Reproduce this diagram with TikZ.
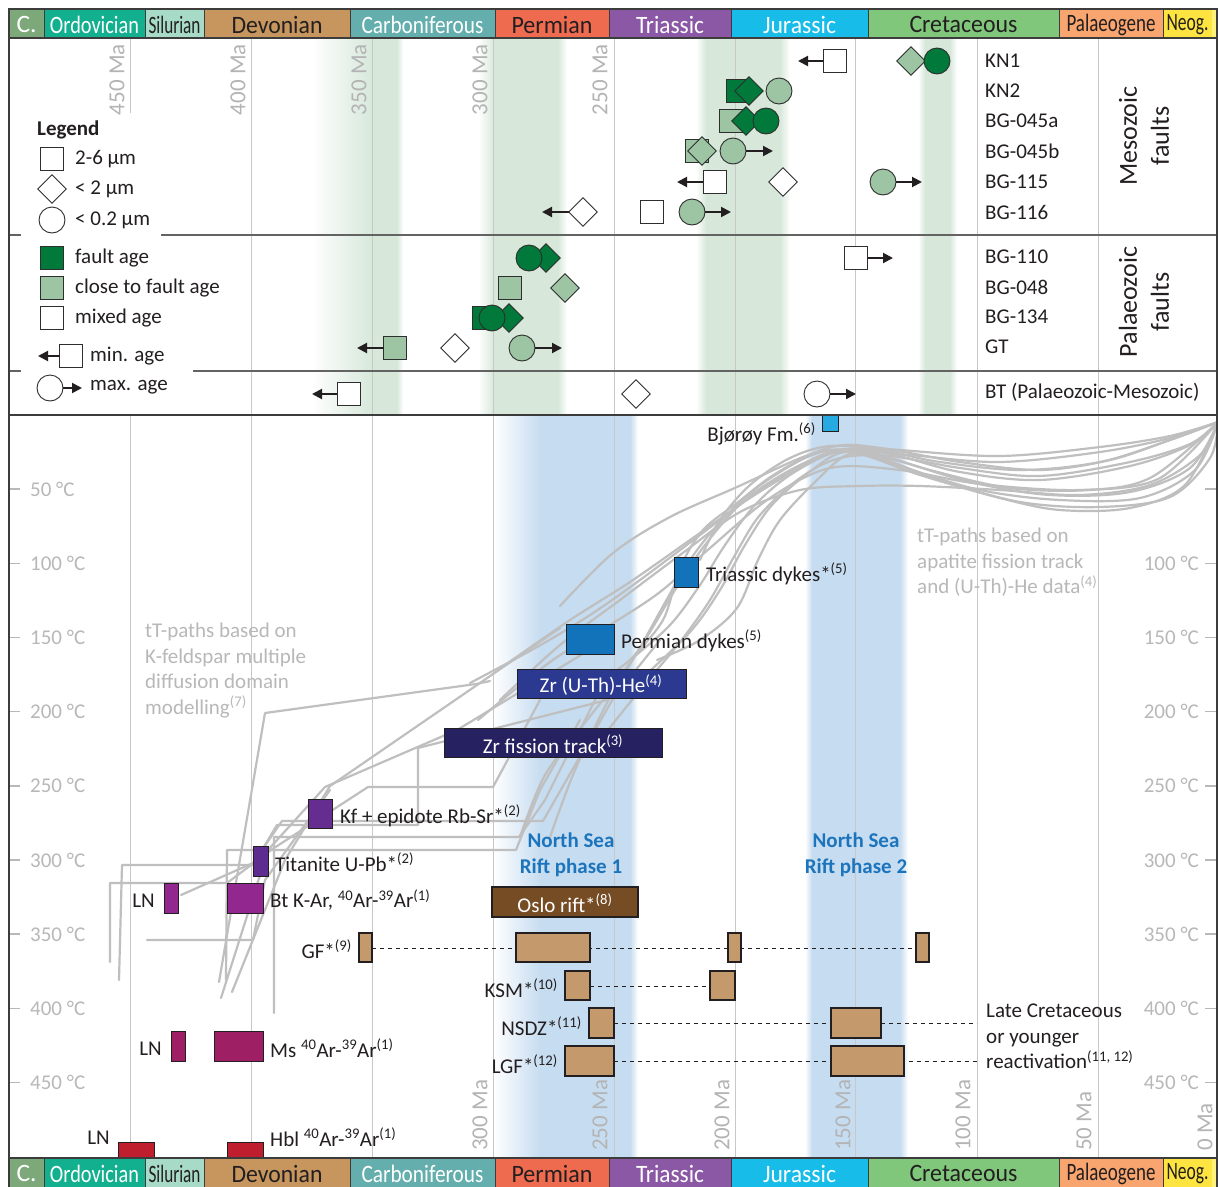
\documentclass[tikz,border=0pt]{standalone}
\usepackage{fontspec}
\setmainfont{Carlito}
\usepackage{graphicx}
\usetikzlibrary{shapes.geometric,arrows.meta}
\definecolor{frame}{HTML}{3C3C3C}
\definecolor{gridc}{HTML}{C8C8C8}
\definecolor{axc}{HTML}{B8B8B8}
\definecolor{bandg}{HTML}{D7E8DB}
\definecolor{bandb}{HTML}{C6DCF0}
\definecolor{dg}{HTML}{00793A}
\definecolor{lg}{HTML}{9DC4A3}
\definecolor{symline}{HTML}{2E2E2E}
\definecolor{pathc}{HTML}{BFBFBF}
\definecolor{txt}{HTML}{231F20}
\definecolor{nsr}{HTML}{1C75BC}
\definecolor{tan}{HTML}{C49A6C}
\definecolor{bjo}{HTML}{27AAE1}
\definecolor{dyk}{HTML}{1272BA}
\definecolor{zrhe}{HTML}{2B3990}
\definecolor{zrft}{HTML}{262262}
\definecolor{kfc}{HTML}{662D91}
\definecolor{titc}{HTML}{5E2C90}
\definecolor{btc}{HTML}{92278F}
\definecolor{msc}{HTML}{9E1F63}
\definecolor{hblc}{HTML}{BE1E2D}
\definecolor{oslo}{HTML}{754C24}
\definecolor{cCam}{HTML}{7DA87A}
\definecolor{cOrd}{HTML}{13B08F}
\definecolor{cSil}{HTML}{A7DBC8}
\definecolor{cDev}{HTML}{C7955E}
\definecolor{cCar}{HTML}{64AEAE}
\definecolor{cPer}{HTML}{EF6B4F}
\definecolor{cTri}{HTML}{8B58A6}
\definecolor{cJur}{HTML}{18BCE9}
\definecolor{cCre}{HTML}{80C77B}
\definecolor{cPal}{HTML}{F9A56F}
\definecolor{cNeo}{HTML}{FDE440}
\definecolor{cQua}{HTML}{FEF27A}
\newcommand\flab{\fontsize{21}{25.5}\selectfont}
\newcommand\fhdr{\fontsize{25}{28}\selectfont}
\newcommand\fbigl{\fontsize{26}{32}\selectfont}
\newcommand\fax{\fontsize{21}{24}\selectfont}
\newcommand\fma{\fontsize{23}{26}\selectfont}
\newcommand\perd[6]{%
  \foreach \yy/\yb in {9/38,1158/1187}{%
    \path[draw=frame, line width=1pt, fill=#3] (#1,\yy) rectangle (#2,\yb);
    \node[text=#4, font=\fhdr, inner sep=0pt] at ({(#1+#2)/2},{(\yy+\yb)/2+1}) {\resizebox{#5pt}{\height}{#6}};
  }}
\newcommand\sqs[3]{\node[sqsty, fill=#3] at (#1,#2) {};}
\newcommand\dms[3]{\node[dmsty, fill=#3] at (#1,#2) {};}
\newcommand\cis[3]{\node[cisty, fill=#3] at (#1,#2) {};}
\begin{document}
\begin{tikzpicture}[x=1pt,y=-1pt,
  sym/.style={draw=symline, line width=0.9pt, inner sep=0pt},
  sqsty/.style={sym, rectangle, minimum size=23pt},
  dmsty/.style={sym, diamond, minimum size=29pt},
  cisty/.style={sym, circle, minimum size=26pt},
  arw/.style={draw=txt, line width=2pt, -{Triangle[length=10pt,width=10pt]}},
  gridl/.style={draw=gridc, line width=1pt},
  tpath/.style={draw=pathc, line width=2.2pt, line join=round, line cap=round},
  lab/.style={font=\flab, text=txt, inner sep=0pt},
  axl/.style={font=\fax, text=axc, inner sep=0pt},
  mal/.style={font=\fma, text=gridc!90!black, inner sep=0pt, rotate=90},
  wbox/.style={font=\flab, text=white, inner sep=0pt},
  dbox/.style={draw=txt, line width=1pt},
  tbox/.style={draw=txt, line width=2.4pt, fill=tan},
  dsh/.style={draw=txt, line width=1pt, dash pattern=on 4pt off 4pt},
  apc/.style={tpath, smooth, tension=0.55},
]
\useasboundingbox (0,0) rectangle (1218,1186);
\fill[white] (0,0) rectangle (1218,1186);

% ---------- green bands (upper panel)
\shade[left color=white, right color=bandg] (311,38) rectangle (372,415);
\fill[bandg] (372,38) rectangle (397,415);
\shade[left color=bandg, right color=white] (397,38) rectangle (403,415);
\shade[left color=white, right color=bandg] (478,38) rectangle (494,415);
\fill[bandg] (494,38) rectangle (558,415);
\shade[left color=bandg, right color=white] (558,38) rectangle (567,415);
\shade[left color=white, right color=bandg] (696,38) rectangle (706,415);
\fill[bandg] (706,38) rectangle (780,415);
\shade[left color=bandg, right color=white] (780,38) rectangle (790,415);
\shade[left color=white, right color=bandg] (918,38) rectangle (925,415);
\fill[bandg] (925,38) rectangle (950,415);
\shade[left color=bandg, right color=white] (950,38) rectangle (957,415);

% ---------- blue bands (lower panel)
\shade[left color=white, right color=bandb] (493,415) rectangle (541,1158);
\fill[bandb] (541,415) rectangle (630,1158);
\shade[left color=bandb, right color=white] (630,415) rectangle (638,1158);
\shade[left color=white, right color=bandb] (805,415) rectangle (812,1158);
\fill[bandb] (812,415) rectangle (900,1158);
\shade[left color=bandb, right color=white] (900,415) rectangle (908,1158);

% ---------- grid lines
\draw[gridl] (130,38) -- (130,113);
\foreach \gx in {251,372,493,614,735,855,977,1098}{\draw[gridl] (\gx,38) -- (\gx,415);}
\foreach \gx in {130,251,372,493,614,735,855,977,1098}{\draw[gridl] (\gx,415) -- (\gx,1158);}

% ---------- Ma labels
\foreach \mx/\mt in {117/450,238/400,359/350,480/300,600/250}{
  \node[mal, anchor=east] at (\mx,44) {\mt\ Ma};}
\foreach \mx/\mt in {480/300,600/250,722/200,843/150,963/100,1084/50,1205/0}{
  \node[mal, anchor=west] at (\mx,1151) {\mt\ Ma};}

% ---------- temperature axis
\foreach \tt in {50,100,...,450}{
  \pgfmathsetmacro\ty{415+1.4833*\tt}
  \draw[draw=axc, line width=1.5pt] (9,\ty) -- (20,\ty);
  \draw[draw=axc, line width=1.5pt] (1205,\ty) -- (1217,\ty);
  \node[axl, anchor=west] at (30,\ty) {\tt\ °C};
}
\foreach \tt in {100,150,...,450}{
  \pgfmathsetmacro\ty{415+1.4833*\tt}
  \node[axl, anchor=east] at (1199,\ty) {\tt\ °C};
}

% ---------- tT paths (K-feldspar MDD)
\draw[tpath] (490,681) -- (476,684) -- (265,713) -- (219,982);
\draw[tpath] (614,635) -- (457,730) -- (325,787) -- (268,850) -- (221,998);
\draw[tpath] (607,700) -- (418,748) -- (418,825) -- (277,825) -- (253,865) -- (122,865) -- (119,980);
\draw[tpath] (660,640) -- (614,697) -- (543,821) -- (282,821) -- (253,863) -- (181,895);
\draw[tpath] (600,690) -- (545,800) -- (519,837) -- (274,837) -- (274,1013);
\draw[tpath] (580,720) -- (540,790) -- (516,850) -- (227,850) -- (226,980);
\draw[tpath] (540,700) -- (493,787) -- (368,787) -- (271,850) -- (227,883) -- (110,883) -- (110,962);
\draw[tpath] (330,790) -- (265,880) -- (253,940) -- (147,940);
\draw[tpath] (560,628) -- (330,786) -- (285,860) -- (232,992);

% ---------- tT paths (apatite)
\draw[apc] plot coordinates {(560,606) (613,553) (670,517) (737,487) (803,457) (845,445) (900,450) (1000,456) (1100,447) (1170,436) (1218,422)};
\draw[apc] plot coordinates {(470,683) (537,647) (590,615) (640,580) (700,535) (760,490) (815,458) (850,449) (895,455) (960,472) (1040,480) (1130,466) (1190,445) (1218,422)};
\draw[apc] plot coordinates {(478,720) (550,662) (610,625) (660,592) (710,548) (770,498) (830,468) (900,470) (980,484) (1080,490) (1150,478) (1218,422)};
\draw[apc] plot coordinates {(500,700) (560,645) (620,600) (680,555) (740,512) (800,490) (860,486) (920,486) (1000,490) (1080,495) (1150,485) (1200,455) (1218,422)};
\draw[apc] plot coordinates {(630,660) (663,620) (680,568) (703,530) (737,503) (775,474) (820,452) (860,454) (920,475) (1000,498) (1060,510) (1130,508) (1185,485) (1218,422)};
\draw[apc] plot coordinates {(550,837) (575,770) (610,697) (637,653) (662,608) (690,560) (722,520) (762,484) (812,455) (850,450) (900,466) (980,490) (1060,500) (1140,498) (1195,470) (1218,422)};
\draw[apc] plot coordinates {(520,837) (545,775) (587,720) (613,687) (645,640) (675,590) (705,545) (745,500) (800,465) (850,450) (910,455) (1000,462) (1100,452) (1170,438) (1218,422)};
\draw[apc] plot coordinates {(657,660) (700,640) (737,608) (758,560) (780,520) (815,482) (847,455) (880,458) (940,480) (1020,502) (1100,507) (1170,497) (1210,458) (1218,422)};
\draw[apc] plot coordinates {(640,680) (690,632) (720,590) (745,545) (772,505) (812,470) (845,452) (895,460) (970,482) (1050,495) (1130,492) (1190,468) (1218,422)};
\draw[apc] plot coordinates {(600,740) (640,690) (680,642) (710,600) (735,555) (760,515) (800,478) (840,458) (890,456) (960,468) (1040,476) (1130,462) (1190,444) (1218,422)};
\draw[apc] plot coordinates {(508,663) (570,620) (630,582) (690,540) (750,498) (800,468) (840,450) (890,450) (960,462) (1040,470) (1110,460) (1170,440) (1218,422)};
\draw[apc] plot coordinates {(700,560) (720,520) (750,485) (790,458) (830,446) (880,450) (940,462) (1020,470) (1100,462) (1170,440) (1218,422)};
\draw[apc] plot coordinates {(590,690) (630,660) (670,625) (700,585) (725,545) (755,505) (790,475) (835,452) (870,452) (930,470) (1010,488) (1090,490) (1160,478) (1218,422)};

% ---------- gray annotations
\node[font=\flab, text=axc, anchor=north west, align=left, inner sep=0pt] (kfnote) at (145,623)
  {tT-paths based on\\K-feldspar multiple\\diffusion domain\\modelling\textsuperscript{(7)}};
\node[font=\flab, text=axc, anchor=north west, align=left, inner sep=0pt] (apnote) at (917,528)
  {tT-paths based on\\apatite fission track\\and (U-Th)-He data\textsuperscript{(4)}};

% ---------- data boxes
\path[dbox, fill=bjo] (822,415) rectangle (838,431);
\node[lab, anchor=east] (bjo) at (816,434) {Bjørøy Fm.\textsuperscript{(6)}};
\path[dbox, fill=dyk] (674,557) rectangle (698,587);
\node[lab, anchor=west] (tri) at (706,574) {Triassic dykes*\textsuperscript{(5)}};
\path[dbox, fill=dyk] (566,624) rectangle (614,654);
\node[lab, anchor=west] (perm) at (621,641) {Permian dykes\textsuperscript{(5)}};
\path[dbox, fill=zrhe] (517,669) rectangle (686,698);
\node[wbox] (zrhel) at (601,685) {Zr (U-Th)-He\textsuperscript{(4)}};
\path[dbox, fill=zrft] (444,728) rectangle (662,757);
\node[wbox] (zrftl) at (553,744) {Zr fission track\textsuperscript{(3)}};
\path[dbox, fill=kfc] (308,799) rectangle (332,828);
\node[lab, anchor=west] (kf) at (340,816) {Kf + epidote Rb-Sr*\textsuperscript{(2)}};
\path[dbox, fill=titc] (253,846) rectangle (268,876);
\node[lab, anchor=west] (tit) at (275,862) {Titanite U-Pb*\textsuperscript{(2)}};
\path[dbox, fill=btc] (164,883) rectangle (178,913);
\path[dbox, fill=btc] (227,883) rectangle (263,913);
\node[lab, anchor=east] (ln1) at (155,901) {LN};
\node[lab, anchor=west] (bt) at (270,900) {Bt K-Ar, \textsuperscript{40}Ar-\textsuperscript{39}Ar\textsuperscript{(1)}};
\path[dbox, fill=msc] (171,1031) rectangle (185,1061);
\path[dbox, fill=msc] (214,1031) rectangle (263,1061);
\node[lab, anchor=east] (ln2) at (162,1049) {LN};
\node[lab, anchor=west] (ms) at (270,1048) {Ms \textsuperscript{40}Ar-\textsuperscript{39}Ar\textsuperscript{(1)}};
\path[dbox, fill=hblc] (118,1142) rectangle (154,1160);
\path[dbox, fill=hblc] (227,1142) rectangle (263,1160);
\node[lab, anchor=east] (ln3) at (110,1138) {LN};
\node[lab, anchor=west] (hbl) at (270,1137) {Hbl \textsuperscript{40}Ar-\textsuperscript{39}Ar\textsuperscript{(1)}};
\path[draw=txt, line width=1.5pt, fill=oslo] (492,887) rectangle (638,917);
\node[wbox] (oslol) at (565,903) {Oslo rift*\textsuperscript{(8)}};
\node[font=\flab\bfseries, text=nsr, align=center, inner sep=0pt] (ns1) at (571,855) {North Sea\\Rift phase 1};
\node[font=\flab\bfseries, text=nsr, align=center, inner sep=0pt] (ns2) at (856,855) {North Sea\\Rift phase 2};

% tan boxes with dashed links
\draw[dsh] (372,948) -- (916,948);
\draw[dsh] (590,986) -- (710,986);
\draw[dsh] (614,1023) -- (831,1023);
\draw[dsh] (881,1023) -- (977,1023);
\draw[dsh] (614,1061) -- (831,1061);
\draw[dsh] (909,1061) -- (977,1061);
\path[tbox] (359,933) rectangle (372,962);
\path[tbox] (516,933) rectangle (590,962);
\path[tbox] (728,933) rectangle (741,962);
\path[tbox] (916,933) rectangle (929,962);
\path[tbox] (565,971) rectangle (590,1000);
\path[tbox] (710,971) rectangle (735,1000);
\path[tbox] (589,1008) rectangle (614,1038);
\path[tbox] (831,1008) rectangle (881,1038);
\path[tbox] (565,1046) rectangle (614,1076);
\path[tbox] (831,1046) rectangle (904,1076);
\node[lab, anchor=east] (gf) at (352,949) {GF*\textsuperscript{(9)}};
\node[lab, anchor=east] (ksm) at (558,988) {KSM*\textsuperscript{(10)}};
\node[lab, anchor=east] (nsdz) at (582,1026) {NSDZ*\textsuperscript{(11)}};
\node[lab, anchor=east] (lgf) at (558,1064) {LGF*\textsuperscript{(12)}};
\node[lab, anchor=north west, align=left] (late) at (986,1004)
  {Late Cretaceous\\or younger\\reactivation\textsuperscript{(11, 12)}};

% ---------- upper panel frame lines
\draw[draw=frame!80, line width=1.5pt] (9,235) -- (21,235) (161,235) -- (1217,235);
\draw[draw=frame!80, line width=1.5pt] (9,371) -- (21,371) (193,371) -- (1217,371);
\draw[draw=frame, line width=2.5pt] (9,415) -- (1217,415);

% ---------- legend
\node[font=\flab\bfseries, text=txt, anchor=west, inner sep=0pt] (leg) at (37,130) {Legend};
\sqs{52}{159}{white} \node[lab, anchor=west] at (75,159) {2-6 µm};
\dms{52}{189}{white} \node[lab, anchor=west] at (75,189) {< 2 µm};
\cis{52}{220}{white} \node[lab, anchor=west] at (75,220) {< 0.2 µm};
\sqs{52}{258}{dg} \node[lab, anchor=west] at (75,258) {fault age};
\sqs{52}{288}{lg} \node[lab, anchor=west] at (75,288) {close to fault age};
\sqs{52}{318}{white} \node[lab, anchor=west] at (75,318) {mixed age};
\sqs{71}{356}{white} \draw[arw] (60,356) -- (38,356);
\node[lab, anchor=west] at (90,356) {min. age};
\cis{50}{388}{white} \draw[arw] (63,388) -- (82,388);
\node[lab, anchor=west] at (90,387) {max. age};

% ---------- sample symbols
\sqs{835}{61}{white} \draw[arw] (823,61) -- (798,61);
\dms{911}{61}{lg} \cis{937}{61}{dg}
\sqs{738}{91}{dg} \dms{749}{91}{dg} \cis{779}{91}{lg}
\sqs{731}{121}{lg} \dms{746}{121}{dg} \cis{766}{121}{dg}
\sqs{697}{151}{lg} \dms{702}{151}{lg} \cis{733}{151}{lg} \draw[arw] (746,151) -- (773,151);
\sqs{715}{182}{white} \draw[arw] (703,182) -- (677,182);
\dms{783}{182}{white}
\cis{883}{182}{lg} \draw[arw] (896,182) -- (922,182);
\dms{583}{212}{white} \draw[arw] (569,212) -- (542,212);
\sqs{652}{212}{white}
\cis{692}{212}{lg} \draw[arw] (705,212) -- (731,212);
\dms{546}{258}{dg} \cis{529}{258}{dg}
\sqs{856}{258}{white} \draw[arw] (868,258) -- (893,258);
\sqs{510}{288}{lg} \dms{565}{288}{lg}
\sqs{484}{318}{dg} \dms{509}{318}{dg} \cis{492}{318}{dg}
\sqs{395}{348}{lg} \draw[arw] (384,348) -- (357,348);
\dms{455}{348}{white}
\cis{522}{348}{lg} \draw[arw] (535,348) -- (562,348);
\sqs{349}{394}{white} \draw[arw] (337,394) -- (312,394);
\dms{636}{394}{white}
\cis{817}{394}{white} \draw[arw] (830,394) -- (856,394);

% ---------- sample names
\foreach \sy/\sn in {61/KN1,91/KN2,121/BG-045a,151/BG-045b,182/BG-115,212/BG-116,257/BG-110,287/BG-048,317/BG-134,347/GT}{
  \node[lab, anchor=west] at (985,\sy) {\sn};}
\node[lab, anchor=west] (bt2) at (985,392) {BT (Palaeozoic-Mesozoic)};
\node[font=\fbigl, text=txt, rotate=90, align=center, inner sep=0pt] (meso) at (1144,136) {Mesozoic\\faults};
\node[font=\fbigl, text=txt, rotate=90, align=center, inner sep=0pt] (palz) at (1144,302) {Palaeozoic\\faults};

% ---------- time scale bars
\perd{9}{44}{cCam}{white}{20}{C.}
\perd{44}{145}{cOrd}{white}{89}{Ordovician}
\perd{145}{204}{cSil}{txt}{52}{Silurian}
\perd{204}{350}{cDev}{txt}{91}{Devonian}
\perd{350}{495}{cCar}{white}{122}{Carboniferous}
\perd{495}{609}{cPer}{txt}{81}{Permian}
\perd{609}{731}{cTri}{white}{68}{Triassic}
\perd{731}{868}{cJur}{white}{73}{Jurassic}
\perd{868}{1059}{cCre}{txt}{108}{Cretaceous}
\perd{1059}{1163}{cPal}{txt}{89}{Palaeogene}
\perd{1163}{1212}{cNeo}{txt}{42}{Neog.}
\fill[cQua] (1212,9) rectangle (1217,38);
\fill[cQua] (1212,1158) rectangle (1217,1187);

% ---------- outer frame
\draw[draw=frame, line width=2.5pt] (9,1187) -- (9,9) -- (1217,9) -- (1217,1187);
\draw[draw=frame, line width=2.5pt] (9,38) -- (1217,38);
\draw[draw=frame, line width=2.5pt] (9,1158) -- (1217,1158);
\end{tikzpicture}
\end{document}
